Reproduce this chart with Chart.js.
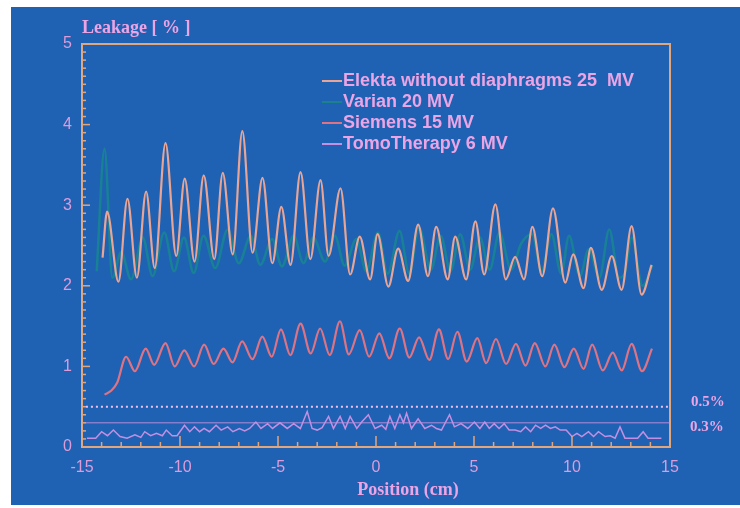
<!DOCTYPE html>
<html>
<head>
<meta charset="utf-8">
<script src="https://cdn.jsdelivr.net/npm/chart.js@4.4.1/dist/chart.umd.min.js"></script>
<style>
  body { margin: 0; background: #ffffff; }
  #wrap { width: 740px; height: 508px; position: relative; }
</style>
</head>
<body>
<div id="wrap"><canvas id="grafica" width="740" height="508"></canvas></div>
<script>
// valores (posicion en cm, fuga en %)
var elektaX = [-13.95,-13.72,-13.14,-12.68,-12.20,-11.73,-11.29,-10.74,-10.19,-9.76,-9.26,-8.79,-8.25,-7.82,-7.31,-6.82,-6.30,-5.79,-5.29,-4.83,-4.36,-3.85,-3.35,-2.83,-2.42,-1.81,-1.32,-0.83,-0.30,0.08,0.63,1.13,1.64,2.15,2.65,3.07,3.66,4.04,4.60,5.07,5.52,6.09,6.62,7.10,7.55,7.98,8.48,9.03,9.66,10.06,10.59,10.96,11.52,12.03,12.53,13.04,13.55,14.06];
var elektaY = [2.35,2.92,2.05,3.08,2.10,3.17,2.22,3.77,2.37,3.33,2.30,3.37,2.33,3.40,2.39,3.92,2.41,3.34,2.28,2.98,2.26,3.41,2.33,3.31,2.37,3.21,2.14,2.61,2.08,2.64,1.99,2.46,2.06,2.76,2.12,2.73,2.08,2.61,2.08,2.80,2.14,3.01,2.08,2.36,2.08,2.73,2.12,2.96,2.04,2.39,1.97,2.47,1.95,2.37,1.95,2.74,1.89,2.26];

var varianX = [-14.25,-13.85,-13.45,-13.0,-12.5,-11.9,-11.4,-10.8,-10.3,-9.8,-9.3,-8.8,-8.2,-7.57,-7.0,-6.39,-5.9,-5.3,-4.8,-4.2,-3.7,-3.2,-2.6,-2.1,-1.6,-1.0,-0.5,0.1,0.6,1.2,1.7,2.2,2.8,3.3,3.8,4.3,4.8,5.3,5.8,6.3,6.9,7.4,7.96,8.45,8.95,9.45,9.85,10.4,10.85,11.4,11.9,12.4,12.7,13.05,13.6,14.1];
var varianY = [2.18,3.70,2.10,2.42,2.08,2.60,2.12,2.66,2.18,2.60,2.16,2.62,2.22,2.70,2.28,2.62,2.26,2.58,2.24,2.62,2.28,2.60,2.30,2.62,2.25,2.58,2.18,2.66,2.15,2.68,2.15,2.72,2.20,2.62,2.18,2.64,2.20,2.60,2.20,2.66,2.20,2.52,2.64,2.18,2.64,2.15,2.62,2.12,2.45,2.10,2.70,2.10,2.16,2.60,2.00,2.25];

var siemensX = [-13.85,-13.5,-13.2,-12.75,-12.3,-11.75,-11.32,-10.74,-10.27,-9.78,-9.28,-8.77,-8.28,-7.78,-7.32,-6.83,-6.30,-5.80,-5.32,-4.85,-4.37,-3.85,-3.33,-2.85,-2.36,-1.84,-1.39,-0.83,-0.35,0.17,0.68,1.21,1.70,2.20,2.72,3.21,3.68,4.15,4.63,5.17,5.62,6.12,6.64,7.14,7.63,8.10,8.64,9.10,9.61,10.09,10.59,11.03,11.57,12.08,12.54,13.04,13.57,14.08];
var siemensY = [0.65,0.70,0.80,1.12,0.94,1.22,1.02,1.29,1.00,1.20,1.00,1.27,1.03,1.22,1.05,1.31,1.09,1.37,1.12,1.46,1.14,1.53,1.16,1.47,1.14,1.56,1.15,1.45,1.12,1.41,1.10,1.47,1.11,1.36,1.08,1.46,1.09,1.43,1.06,1.35,1.04,1.34,1.03,1.28,1.01,1.29,1.00,1.27,0.99,1.22,0.97,1.27,0.95,1.17,0.95,1.28,0.94,1.22];

var tomoX = [-14.75,-14.3,-14.0,-13.7,-13.4,-13.06,-12.7,-12.3,-12.0,-11.8,-11.5,-11.2,-10.9,-10.7,-10.4,-10.15,-9.77,-9.5,-9.26,-9.0,-8.77,-8.5,-8.16,-7.9,-7.57,-7.3,-6.97,-6.7,-6.45,-6.13,-5.87,-5.53,-5.28,-4.9,-4.53,-4.2,-3.86,-3.51,-3.26,-3.0,-2.75,-2.42,-2.17,-1.83,-1.57,-1.32,-0.98,-0.73,-0.39,-0.05,0.29,0.5,0.71,0.96,1.22,1.4,1.56,1.81,2.15,2.49,2.83,3.08,3.34,3.75,4.0,4.34,4.68,5.02,5.3,5.55,5.78,6.03,6.28,6.54,6.79,7.1,7.38,7.63,7.89,8.14,8.4,8.65,8.9,9.15,9.4,9.7,10.0,10.25,10.5,10.84,11.1,11.35,11.69,11.95,12.2,12.45,12.7,13.04,13.35,13.63,13.88,14.56];
var tomoY = [0.11,0.11,0.19,0.14,0.21,0.13,0.11,0.15,0.12,0.19,0.14,0.17,0.14,0.21,0.14,0.14,0.27,0.19,0.25,0.19,0.23,0.19,0.27,0.21,0.25,0.19,0.23,0.20,0.23,0.31,0.23,0.29,0.23,0.30,0.23,0.29,0.23,0.44,0.23,0.21,0.24,0.38,0.23,0.38,0.23,0.38,0.23,0.31,0.40,0.23,0.27,0.22,0.38,0.23,0.40,0.30,0.42,0.23,0.35,0.23,0.27,0.23,0.21,0.40,0.25,0.29,0.23,0.31,0.23,0.31,0.23,0.29,0.23,0.29,0.21,0.21,0.19,0.25,0.19,0.27,0.23,0.27,0.23,0.25,0.21,0.21,0.13,0.17,0.13,0.19,0.13,0.19,0.13,0.14,0.11,0.25,0.11,0.11,0.11,0.19,0.11,0.11];

// lineas de referencia
var refX = [-14.8, 15];
var ref05 = [0.5, 0.5];
var ref03 = [0.3, 0.3];

var etiquetas = ["Elekta without diaphragms 25  MV", "Varian 20 MV", "Siemens 15 MV", "TomoTherapy 6 MV"];

var colorFondo = "#1f62b3";
var colorMarco = "#e0a77f";
var colorTexto = "#eca4e4";
var colorElekta = "#e8a595";
var colorVarian = "rgba(20,160,120,0.5)";
var colorSiemens = "#df7384";
var colorTomo = "#c48fe2";

function puntos(xs, ys) {
    return xs.map(function(x, i) { return { x: x, y: ys[i] }; });
}

var pluginFondo = {
    id: "fondo",
    beforeDraw: function(chart) {
        var ctx = chart.ctx;
        ctx.save();
        ctx.fillStyle = colorFondo;
        ctx.fillRect(11, 7, 729, 498);
        ctx.restore();
    },
    afterDatasetsDraw: function(chart) {
        var ctx = chart.ctx;
        var a = chart.chartArea;
        var xs = chart.scales.x;
        var ys = chart.scales.y;
        ctx.save();
        ctx.strokeStyle = colorMarco;
        ctx.lineWidth = 1.5;
        // marcas hacia dentro en el eje y, cada 0.1
        for (var i = 0; i <= 50; i++) {
            var py = ys.getPixelForValue(i / 10);
            var largo = (i % 10 == 0) ? 8 : 4;
            ctx.beginPath();
            ctx.moveTo(a.left, py);
            ctx.lineTo(a.left + largo, py);
            ctx.stroke();
        }
        // marcas en el eje x, cada cm
        for (var j = -15; j <= 15; j++) {
            var px = xs.getPixelForValue(j);
            var largoX = (j % 5 == 0) ? 11 : 5;
            ctx.beginPath();
            ctx.moveTo(px, a.bottom);
            ctx.lineTo(px, a.bottom - largoX);
            ctx.stroke();
        }
        ctx.lineWidth = 2;
        ctx.strokeRect(a.left, a.top, a.right - a.left, a.bottom - a.top);
        ctx.restore();
    },
    afterDraw: function(chart) {
        var ctx = chart.ctx;
        var ys = chart.scales.y;
        ctx.save();
        ctx.fillStyle = colorTexto;
        ctx.textBaseline = "middle";
        ctx.font = "bold 18px 'Liberation Serif'";
        ctx.textAlign = "left";
        ctx.fillText("Leakage [ % ]", 82, 28);
        ctx.textAlign = "center";
        ctx.fillText("Position (cm)", 408, 490);
        ctx.font = "bold 15px 'Liberation Serif'";
        ctx.textAlign = "left";
        ctx.fillText("0.5%", 691, ys.getPixelForValue(0.5) - 5);
        ctx.fillText("0.3%", 690, ys.getPixelForValue(0.3) + 4);
        // leyenda
        var colores = [colorElekta, "rgba(25,150,110,0.6)", colorSiemens, colorTomo];
        var filas = [81, 102, 123, 144];
        ctx.font = "bold 18px 'Liberation Sans'";
        for (var k = 0; k < etiquetas.length; k++) {
            ctx.strokeStyle = colores[k];
            ctx.lineWidth = 2;
            ctx.beginPath();
            ctx.moveTo(322, filas[k]);
            ctx.lineTo(342, filas[k]);
            ctx.stroke();
            ctx.fillStyle = colorTexto;
            ctx.fillText(etiquetas[k], 343, filas[k]);
        }
        ctx.restore();
    }
};

var chartOptions = {
    responsive: false,
    animation: false,
    devicePixelRatio: 1,
    layout: { padding: { top: 44, right: 70, left: 0, bottom: 0 } },
    plugins: { legend: { display: false }, tooltip: { enabled: false } },
    elements: { point: { radius: 0 } },
    scales: {
        x: {
            type: "linear", min: -15, max: 15,
            afterFit: function(scale) { scale.height = 61; },
            grid: { display: false, drawTicks: false },
            border: { display: false },
            ticks: { stepSize: 5, padding: 11, color: "#dc9cda", font: { family: "'Liberation Sans'", size: 16 } }
        },
        y: {
            type: "linear", min: 0, max: 5,
            afterFit: function(scale) { scale.width = 82; },
            grid: { display: false, drawTicks: false },
            border: { display: false },
            ticks: { stepSize: 1, padding: 10, color: "#dc9cda", font: { family: "'Liberation Sans'", size: 16 } }
        }
    }
};

new Chart(document.getElementById("grafica"), {
    type: "line",
    data: {
        datasets: [
            { label: etiquetas[1], data: puntos(varianX, varianY), borderColor: colorVarian, borderWidth: 2.5, cubicInterpolationMode: "monotone", order: 6 },
            { label: etiquetas[0], data: puntos(elektaX, elektaY), borderColor: colorElekta, borderWidth: 2.2, cubicInterpolationMode: "monotone", order: 5 },
            { label: etiquetas[2], data: puntos(siemensX, siemensY), borderColor: colorSiemens, borderWidth: 2.2, cubicInterpolationMode: "monotone", order: 4 },
            { label: "0.5%", data: puntos(refX, ref05), borderColor: "#f0c0f0", borderWidth: 2, borderDash: [2, 3], order: 3 },
            { label: "0.3%", data: puntos(refX, ref03), borderColor: "#b68ad8", borderWidth: 1, order: 2 },
            { label: etiquetas[3], data: puntos(tomoX, tomoY), borderColor: colorTomo, borderWidth: 1.5, tension: 0, order: 1 }
        ]
    },
    options: chartOptions,
    plugins: [pluginFondo]
});
</script>
</body>
</html>
